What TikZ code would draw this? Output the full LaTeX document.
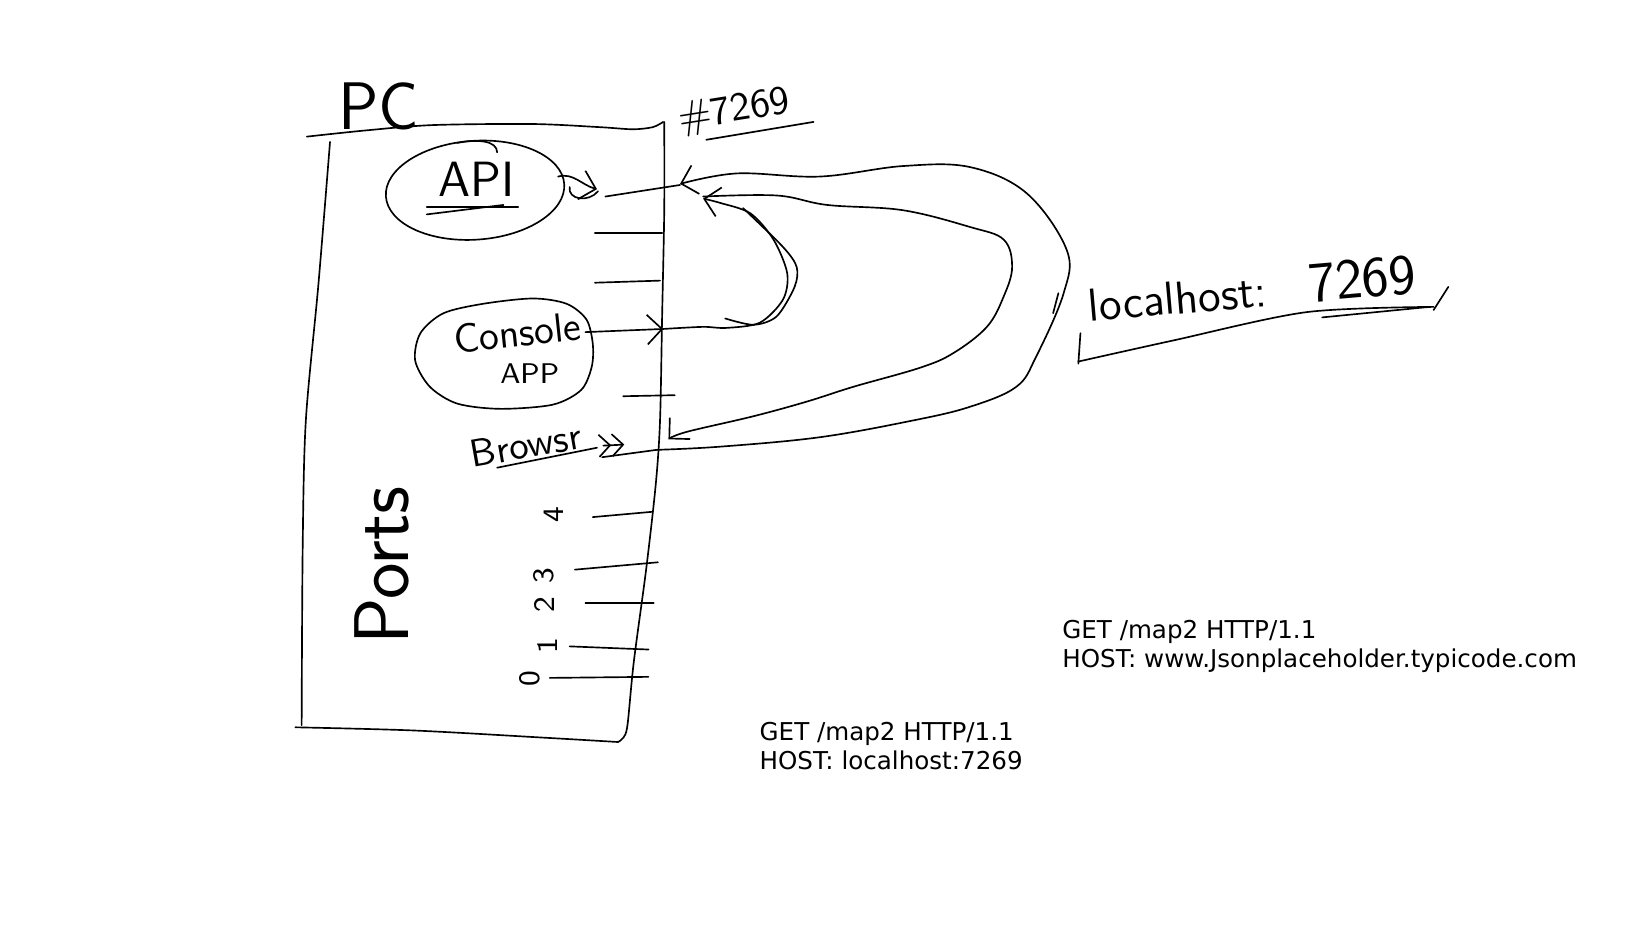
\documentclass[tikz,border=0pt]{standalone}
\usepackage{fontspec}
\newfontfamily\typed{DejaVu Sans}
\usetikzlibrary{arrows.meta,shapes.geometric}
\begin{document}
\begin{tikzpicture}[x=0.01cm, y=-0.01cm, line cap=round, line join=round, line width=0.45pt,
  lbl/.style={inner sep=0pt, outer sep=0pt},
  barb/.style={-{Straight Barb[length=4pt,width=8pt]}},
  typedtxt/.style={inner sep=0pt, anchor=north west, align=left, font=\typed\fontsize{6.65}{8.0}\selectfont}]
\fill[white] (0,0) rectangle (1568,882);
\useasboundingbox (0,0) rectangle (1568,882);

% ---- PC box ----
\draw plot[smooth] coordinates {(292,130) (349,124) (412,119) (507,118) (571,121) (602,123) (621,121) (631,116)};
\draw plot[smooth] coordinates {(632,116) (632,200) (630,300) (628,400) (624,460) (615,540) (603,630) (597,690) (593,702) (588,706)};
\draw plot[smooth] coordinates {(281,692) (393,695) (520,702) (588,706)};
\draw plot[smooth] coordinates {(314,135) (303,270) (291,400) (288,520) (287,690)};

% ---- labels (handwritten) ----
\node[lbl, anchor=base west, font=\sffamily\fontsize{18.2}{20}\selectfont] (pc) at (322,123) {PC};
\node[lbl, anchor=base west, rotate=9, font=\sffamily\fontsize{10.8}{12}\selectfont] (portnum) at (647,124) {\#7269};
\draw (672,133) -- (774,116);

% API
\node[ellipse, draw, minimum width=1.70cm, minimum height=0.94cm, rotate=4, inner sep=0pt] (api) at (452,181) {};
\node[lbl, anchor=base west, font=\sffamily\fontsize{13.4}{15}\selectfont] (apitxt) at (417,187) {API};
\draw (406,197) -- (493,197);
\draw (406,204) -- (479,195);
\draw (435,136) .. controls (455,132) and (473,134) .. (473,145);

% Console app
\draw plot[smooth cycle] coordinates {(422,298) (460,289) (507,284) (539,289) (558,304) (564,327) (563,349) (553,371) (526,385) (476,389) (435,384) (409,368) (395,343) (400,317)};
\coordinate (console) at (479,337);
\node[lbl, anchor=base west, rotate=6, font=\sffamily\fontsize{11}{12}\selectfont] (constxt) at (433,336) {Console};
\node[lbl, anchor=base west, font=\sffamily\fontsize{7.7}{9}\selectfont] (apptxt) at (476,365) {APP};

% Browser
\node[lbl, anchor=base west, rotate=10, font=\sffamily\fontsize{10.5}{12}\selectfont] (browser) at (450,445) {Browsr};
\draw (473,445) -- (568,426);

% Ports
\node[lbl, rotate=90, font=\sffamily\fontsize{21}{22}\selectfont] (ports) at (363,538) {Ports};
\node[lbl, rotate=90, font=\sffamily\fontsize{8}{9}\selectfont] (p4) at (527,490) {4};
\node[lbl, rotate=90, font=\sffamily\fontsize{8}{9}\selectfont] (p3) at (517,548) {3};
\node[lbl, rotate=90, font=\sffamily\fontsize{8}{9}\selectfont] (p2) at (518,575) {2};
\node[lbl, rotate=90, font=\sffamily\fontsize{8}{9}\selectfont] (p1) at (521,614) {1};
\node[lbl, rotate=90, font=\sffamily\fontsize{8}{9}\selectfont] (p0) at (504,646) {0};

% port tick lines
\draw (566,222) -- (630,222);
\draw (566,269) -- (628,267);
\draw (593,377) -- (642,376);
\draw (564,492) -- (620,487);
\draw (547,542) -- (626,535);
\draw (557,574) -- (622,574);
\draw (542,615) -- (617,618);
\draw (523,645) -- (617,644);

% ---- ports / connectors ----
\coordinate (apiport) at (647,176);
\coordinate (conport) at (631,313);
\coordinate (brport) at (625,428);

% API -> its port
\draw[barb] (531,168) to[out=15,in=165] (568,180);
\draw (542,178) .. controls (540,190) and (560,193) .. (569,182);
\draw (576,187) -- (apiport);

% Console app -> its port
\draw[barb] (557,316) -- (conport);

% Browser -> its port
\draw[-{Straight Barb[length=3pt,width=6pt] Straight Barb[length=3pt,width=6pt]}] (574,424) -- (594,423);
\draw (573,435) -- (brport);

% outer loop: browser port -> API port
\draw[barb] plot[smooth, tension=0.6] coordinates {(625,428) (685,425) (780,416) (869,400) (923,387) (967,368) (986,339) (1012,279) (1015,238) (977,184) (923,159) (859,158) (780,168) (701,165) (647,175)};
\draw (1002,298) -- (1007,279);

% inner loop: API side -> browser port
\draw[barb] plot[smooth, tension=0.6] coordinates {(669,187) (739,186) (787,195) (859,200) (923,216) (955,228) (963,254) (955,282) (939,311) (907,336) (875,350) (812,368) (768,382) (717,396) (653,411) (636,418)};

% console loop: console port -> API port
\draw[barb] plot[smooth] coordinates {(631,313) (669,311) (691,312) (723,307) (745,285) (749,260) (736,228) (714,203) (685,193) (669,189)};
\draw plot[smooth] coordinates {(690,303) (717,309) (739,301) (756,273) (758,254) (745,235) (707,198)};

% localhost:7269 label with bracket
\node[lbl, anchor=base west, rotate=5, font=\sffamily\fontsize{12.5}{14}\selectfont] (lh) at (1037,306) {localhost: \hspace{6pt}{\fontsize{15.5}{17}\selectfont 7269}};
\draw (1028,317) -- (1026,346);
\draw plot[smooth] coordinates {(1026,344) (1116,324) (1243,297) (1364,292)};
\draw (1258,302) -- (1360,292);
\draw (1364,295) -- (1378,273);

% ---- typed request texts ----
\node[typedtxt] (req2) at (1010,589) {GET /map2 HTTP/1.1\\HOST: www.Jsonplaceholder.typicode.com};
\node[typedtxt] (req1) at (722,686) {GET /map2 HTTP/1.1\\HOST: localhost:7269};
\end{tikzpicture}
\end{document}
